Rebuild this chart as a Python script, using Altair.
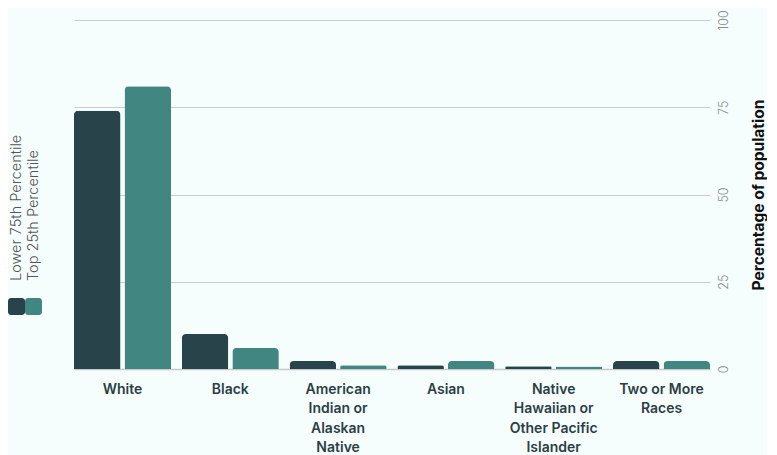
import altair as alt
import pandas as pd

categories = [
    "White",
    "Black",
    "American Indian or Alaskan Native",
    "Asian",
    "Native Hawaiian or Other Pacific Islander",
    "Two or More Races",
]
label_lines = [
    "White",
    "Black",
    "American\nIndian or\nAlaskan\nNative",
    "Asian",
    "Native\nHawaiian or\nOther Pacific\nIslander",
    "Two or More\nRaces",
]
groups = ["Lower 75th Percentile", "Top 25th Percentile"]
lower_75 = [74, 10, 2.3, 1.1, 0.8, 2.3]
top_25 = [81, 6, 1.1, 2.3, 0.7, 2.3]
colors = ["#29434a", "#418680"]
y_ticks = [0, 25, 50, 75, 100]

rows = []
for c, lbl, a, b in zip(categories, label_lines, lower_75, top_25):
    rows.append({"category": lbl, "group": groups[0], "value": a})
    rows.append({"category": lbl, "group": groups[1], "value": b})
df = pd.DataFrame(rows)
legend_df = pd.DataFrame({"group": groups})

color_scale = alt.Scale(domain=groups, range=colors)
FONT = "Inter"

main = (
    alt.Chart(df)
    .mark_bar(cornerRadiusTopLeft=4, cornerRadiusTopRight=4)
    .encode(
        x=alt.X(
            "category:N",
            sort=label_lines,
            scale=alt.Scale(paddingInner=0.1, paddingOuter=0),
            axis=alt.Axis(
                title=None,
                labelAngle=0,
                labelExpr="split(datum.value, '\\n')",
                labelFont=FONT,
                labelFontSize=14,
                labelFontWeight=600,
                labelColor="#2d3e45",
                labelLineHeight=19.5,
                labelPadding=13,
                ticks=False,
                domain=True,
                domainColor="#c8c8c8",
                domainWidth=1.5,
                grid=False,
            ),
        ),
        xOffset=alt.XOffset(
            "group:N", sort=groups, scale=alt.Scale(paddingInner=0.08, paddingOuter=0)
        ),
        y=alt.Y(
            "value:Q",
            scale=alt.Scale(domain=[0, 100], nice=False),
            axis=alt.Axis(
                orient="right",
                values=y_ticks,
                title="Percentage of population",
                titleAngle=270,
                titleFont=FONT,
                titleFontSize=15.5,
                titleFontWeight="bold",
                titleColor="#111111",
                titlePadding=37,
                labelAngle=270,
                labelAlign="center",
                labelBaseline="top",
                labelFont=FONT,
                labelFontSize=12.5,
                labelFontWeight=300,
                labelColor="#8a8a8a",
                labelPadding=7,
                ticks=False,
                domain=False,
                gridColor="#cccccc",
                gridWidth=1,
            ),
        ),
        color=alt.Color("group:N", scale=color_scale, legend=None),
    )
    .properties(width=636, height=349)
)

legend_x = alt.X(
    "group:N",
    sort=groups,
    scale=alt.Scale(paddingInner=0, paddingOuter=0),
    axis=None,
)
legend_squares = (
    alt.Chart(legend_df)
    .mark_rect(cornerRadius=3)
    .encode(
        x=legend_x,
        y=alt.value(278),
        y2=alt.value(295),
        color=alt.Color("group:N", scale=color_scale, legend=None),
    )
)
legend_text = (
    alt.Chart(legend_df)
    .mark_text(
        angle=270,
        align="left",
        baseline="middle",
        font=FONT,
        fontSize=14.5,
        fontWeight=300,
        color="#555555",
        dy=0.5,
    )
    .encode(
        x=alt.X("group:N", sort=groups, scale=alt.Scale(paddingInner=0, paddingOuter=0), axis=None, bandPosition=0.5),
        y=alt.value(261),
        text="group:N",
    )
)
legend = (legend_squares + legend_text).properties(width=34, height=349)

chart = (
    alt.hconcat(legend, main, spacing=32)
    .properties(padding={"left": 0, "top": 1, "right": 0, "bottom": 0})
    .configure(background="#f5fefd")
    .configure_view(stroke=None)
)

chart.save("out.html", embed_options={"renderer": "svg", "actions": False})
